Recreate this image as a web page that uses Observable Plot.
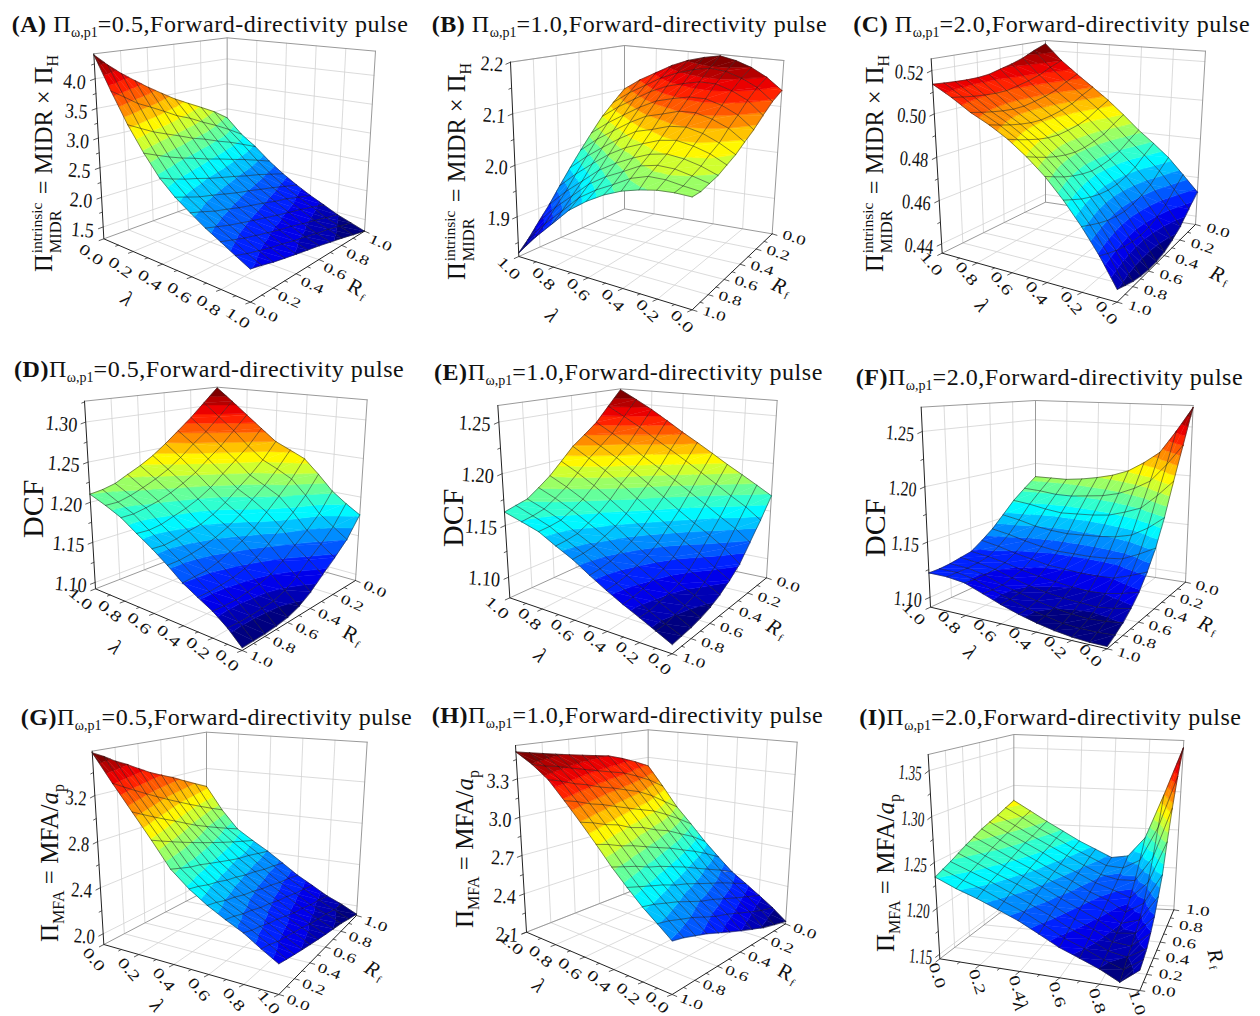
<!DOCTYPE html>
<html><head><meta charset="utf-8">
<script src="https://cdn.jsdelivr.net/npm/d3@7"></script>
<script src="https://cdn.jsdelivr.net/npm/@observablehq/plot@0.6"></script>
<style>
html,body{margin:0;padding:0;background:#fff}
#page{position:relative;width:1260px;height:1016px;overflow:hidden;font-family:"Liberation Serif",serif;color:#111}
.panel{position:absolute}
.panel svg{display:block;background:transparent}
.title{position:absolute;font-size:24px;line-height:1;white-space:nowrap;letter-spacing:.55px}
.title sub{font-size:14px;position:relative;top:5px;vertical-align:baseline;letter-spacing:0}
.ytitle{position:absolute;white-space:nowrap;line-height:1;font-size:25px;transform-origin:0 0;transform:rotate(-90deg)}
.ytitle sub{font-size:16px;vertical-align:baseline;position:relative;top:6px}
.stack{display:inline-block;position:relative;width:54px;height:10px}
.stack i{font-style:normal;position:absolute;left:1px;font-size:15.5px}
.stack .up{top:-13px}.stack .dn{top:6px;font-size:16.5px}
</style></head><body><div id="page"></div>
<script>
const zA=[[4.40,4.20,4.02,3.86,3.70,3.55,3.40,3.27,3.14,3.00,2.82],
[3.85,3.71,3.56,3.45,3.33,3.20,3.10,2.97,2.85,2.71,2.55],
[3.36,3.25,3.14,3.05,2.96,2.86,2.78,2.68,2.59,2.48,2.36],
[2.97,2.88,2.79,2.71,2.64,2.56,2.49,2.41,2.33,2.24,2.14],
[2.65,2.57,2.50,2.44,2.37,2.31,2.25,2.18,2.12,2.04,1.96],
[2.43,2.36,2.29,2.24,2.18,2.12,2.07,2.01,1.95,1.88,1.81],
[2.27,2.21,2.14,2.09,2.03,1.98,1.93,1.87,1.82,1.75,1.68],
[2.12,2.06,2.00,1.95,1.90,1.85,1.80,1.75,1.70,1.64,1.57],
[2.00,1.94,1.88,1.83,1.78,1.73,1.69,1.63,1.58,1.52,1.46],
[1.88,1.82,1.77,1.72,1.68,1.63,1.59,1.54,1.50,1.44,1.38],
[1.77,1.73,1.68,1.64,1.60,1.56,1.52,1.47,1.42,1.36,1.30]];
const zB=[[2.135,2.12,2.10,2.08,2.065,2.05,2.04,2.03,2.025,2.02,2.02],
[2.16,2.146,2.127,2.105,2.087,2.067,2.055,2.041,2.032,2.023,2.02],
[2.178,2.162,2.143,2.12,2.1,2.08,2.064,2.048,2.038,2.027,2.017],
[2.19,2.173,2.153,2.129,2.108,2.087,2.069,2.051,2.038,2.026,2.01],
[2.197,2.176,2.153,2.128,2.106,2.083,2.063,2.044,2.03,2.015,2.0],
[2.19,2.169,2.145,2.12,2.095,2.071,2.05,2.03,2.012,1.996,1.985],
[2.18,2.158,2.135,2.11,2.085,2.061,2.036,2.013,1.995,1.978,1.965],
[2.165,2.143,2.119,2.092,2.066,2.04,2.016,1.992,1.973,1.955,1.94],
[2.145,2.122,2.098,2.07,2.043,2.016,1.99,1.963,1.942,1.921,1.905],
[2.125,2.101,2.076,2.047,2.019,1.99,1.962,1.934,1.911,1.888,1.87],
[2.10,2.075,2.05,2.02,1.99,1.96,1.93,1.90,1.875,1.85,1.83]];
const zC=[[.4525,.4475,.4425,.4395,.4375,.4365,.4365,.437,.438,.4395,.441],
[.4605,.4562,.4518,.4492,.4476,.447,.4473,.4482,.4495,.4512,.453],
[.4685,.4646,.4606,.4585,.4572,.4567,.4572,.4582,.4598,.4616,.4635],
[.475,.4717,.4682,.4664,.4654,.4652,.4659,.4672,.4688,.4709,.473],
[.4812,.4783,.4752,.4737,.473,.4729,.4739,.4753,.4771,.4793,.4815],
[.4885,.4858,.4828,.4815,.4807,.4806,.4814,.4827,.4844,.4864,.4885],
[.4955,.4929,.49,.4886,.4879,.4876,.4882,.4894,.491,.4927,.4946],
[.5018,.4993,.4965,.495,.4941,.4937,.4941,.4951,.4964,.4979,.4995],
[.5081,.5056,.5027,.5011,.5001,.4993,.4994,.5001,.5011,.5023,.5036],
[.515,.5126,.5098,.5081,.5069,.5059,.5059,.5064,.5071,.508,.509],
[.5236,.521,.518,.516,.5145,.513,.5125,.5125,.5128,.5132,.5137]];
const zD=[[1.177,1.153,1.138,1.125,1.112,1.103,1.098,1.096,1.095,1.095,1.095],
[1.188,1.165,1.15,1.138,1.125,1.116,1.111,1.11,1.109,1.109,1.11],
[1.201,1.178,1.163,1.151,1.139,1.13,1.125,1.123,1.121,1.121,1.122],
[1.22,1.198,1.182,1.169,1.155,1.145,1.138,1.134,1.132,1.131,1.131],
[1.238,1.216,1.199,1.184,1.17,1.16,1.153,1.147,1.143,1.142,1.141],
[1.247,1.226,1.209,1.196,1.182,1.172,1.165,1.16,1.157,1.155,1.155],
[1.256,1.235,1.219,1.206,1.193,1.183,1.176,1.173,1.169,1.167,1.168],
[1.272,1.251,1.236,1.222,1.208,1.198,1.191,1.186,1.181,1.179,1.18],
[1.289,1.27,1.252,1.238,1.224,1.214,1.206,1.2,1.196,1.193,1.193],
[1.307,1.287,1.269,1.255,1.24,1.228,1.219,1.212,1.206,1.202,1.202],
[1.325,1.305,1.286,1.27,1.255,1.242,1.232,1.224,1.216,1.212,1.21]];
const zE=[[1.166,1.147,1.131,1.116,1.107,1.1,1.095,1.092,1.09,1.089,1.088],
[1.175,1.158,1.142,1.128,1.116,1.108,1.102,1.099,1.097,1.095,1.095],
[1.184,1.167,1.151,1.138,1.126,1.116,1.109,1.106,1.104,1.102,1.102],
[1.193,1.177,1.161,1.147,1.135,1.125,1.119,1.115,1.112,1.11,1.109],
[1.203,1.187,1.171,1.157,1.146,1.135,1.128,1.124,1.12,1.118,1.117],
[1.213,1.197,1.181,1.168,1.157,1.146,1.138,1.133,1.129,1.127,1.126],
[1.223,1.207,1.191,1.179,1.168,1.157,1.149,1.144,1.139,1.137,1.136],
[1.234,1.217,1.201,1.19,1.18,1.168,1.159,1.153,1.147,1.145,1.144],
[1.245,1.228,1.212,1.201,1.191,1.179,1.169,1.162,1.156,1.154,1.153],
[1.255,1.238,1.222,1.211,1.201,1.189,1.178,1.17,1.163,1.16,1.158],
[1.265,1.248,1.232,1.221,1.211,1.198,1.186,1.177,1.169,1.166,1.163]];
const zF=[[1.27,1.235,1.203,1.172,1.148,1.131,1.118,1.109,1.102,1.097,1.093],
[1.245,1.214,1.187,1.16,1.14,1.125,1.114,1.106,1.1,1.096,1.093],
[1.222,1.196,1.173,1.151,1.133,1.12,1.111,1.104,1.099,1.096,1.094],
[1.21,1.187,1.167,1.147,1.131,1.119,1.11,1.105,1.1,1.097,1.096],
[1.2,1.18,1.162,1.145,1.13,1.119,1.111,1.106,1.102,1.1,1.099],
[1.194,1.176,1.16,1.144,1.13,1.12,1.113,1.108,1.105,1.103,1.103],
[1.19,1.174,1.159,1.143,1.13,1.121,1.115,1.111,1.109,1.108,1.108],
[1.187,1.172,1.158,1.144,1.132,1.124,1.118,1.115,1.113,1.113,1.114],
[1.185,1.172,1.16,1.146,1.135,1.127,1.122,1.12,1.119,1.119,1.12],
[1.185,1.174,1.163,1.15,1.139,1.131,1.125,1.123,1.122,1.122,1.122],
[1.185,1.175,1.165,1.153,1.142,1.134,1.127,1.125,1.123,1.122,1.122]];
const zG=[[3.57,3.52,3.46,3.41,3.35,3.29,3.24,3.19,3.13,3.07,3.01],
[3.33,3.275,3.22,3.165,3.11,3.055,3.0,2.945,2.89,2.835,2.78],
[3.11,3.06,3.01,2.96,2.91,2.855,2.80,2.75,2.70,2.65,2.60],
[2.9,2.86,2.82,2.78,2.74,2.70,2.66,2.62,2.58,2.54,2.5],
[2.69,2.66,2.63,2.61,2.58,2.55,2.52,2.49,2.47,2.44,2.41],
[2.56,2.54,2.51,2.49,2.46,2.44,2.41,2.39,2.36,2.34,2.31],
[2.46,2.44,2.41,2.39,2.36,2.34,2.31,2.29,2.26,2.24,2.21],
[2.38,2.36,2.33,2.31,2.28,2.26,2.23,2.21,2.18,2.16,2.13],
[2.31,2.28,2.26,2.23,2.21,2.18,2.15,2.13,2.10,2.08,2.05],
[2.22,2.20,2.17,2.15,2.13,2.11,2.08,2.06,2.04,2.01,1.99],
[2.14,2.12,2.10,2.08,2.06,2.04,2.02,2.0,1.98,1.95,1.92]];
const zH=[[2.12,2.15,2.18,2.22,2.26,2.3,2.34,2.38,2.41,2.44,2.46],
[2.2,2.23,2.27,2.31,2.35,2.38,2.42,2.46,2.49,2.52,2.54],
[2.27,2.31,2.35,2.39,2.43,2.46,2.5,2.54,2.57,2.6,2.62],
[2.34,2.39,2.44,2.48,2.52,2.56,2.59,2.63,2.66,2.69,2.72],
[2.41,2.47,2.52,2.57,2.62,2.66,2.70,2.73,2.77,2.80,2.83],
[2.51,2.58,2.64,2.69,2.74,2.78,2.82,2.86,2.89,2.93,2.96],
[2.62,2.70,2.76,2.82,2.86,2.91,2.94,2.99,3.02,3.06,3.09],
[2.75,2.83,2.90,2.96,3.0,3.04,3.08,3.12,3.15,3.19,3.22],
[2.88,2.96,3.04,3.10,3.14,3.18,3.21,3.25,3.28,3.32,3.35],
[3.05,3.13,3.19,3.24,3.27,3.30,3.33,3.36,3.39,3.41,3.44],
[3.22,3.28,3.33,3.37,3.39,3.41,3.43,3.45,3.47,3.49,3.51]];
const zI=[[1.234,1.238,1.242,1.247,1.252,1.257,1.262,1.266,1.27,1.275,1.28],
[1.224,1.228,1.233,1.237,1.241,1.246,1.25,1.254,1.258,1.263,1.267],
[1.216,1.22,1.224,1.227,1.231,1.235,1.239,1.243,1.246,1.25,1.254],
[1.207,1.21,1.214,1.218,1.221,1.225,1.228,1.232,1.235,1.239,1.242],
[1.198,1.201,1.204,1.208,1.211,1.214,1.217,1.22,1.224,1.227,1.23],
[1.187,1.19,1.194,1.197,1.2,1.204,1.207,1.21,1.213,1.217,1.22],
[1.176,1.179,1.183,1.186,1.19,1.193,1.196,1.2,1.203,1.207,1.21],
[1.168,1.171,1.174,1.177,1.18,1.184,1.188,1.193,1.198,1.205,1.213],
[1.16,1.162,1.164,1.166,1.168,1.171,1.176,1.185,1.198,1.216,1.238],
[1.15,1.155,1.16,1.164,1.17,1.177,1.188,1.205,1.228,1.259,1.295],
[1.165,1.168,1.172,1.18,1.19,1.205,1.223,1.255,1.29,1.325,1.358]];

const gridValues=[0,.1,.2,.3,.4,.5,.6,.7,.8,.9,1];
const floorTicks=[0,.2,.4,.6,.8,1];
const ticksA=[1.5,2,2.5,3,3.5,4], ticksB=[1.9,2,2.1,2.2], ticksC=[.44,.46,.48,.5,.52],
 ticksD=[1.1,1.15,1.2,1.25,1.3], ticksE=[1.1,1.15,1.2,1.25], ticksF=[1.1,1.15,1.2,1.25],
 ticksG=[2,2.4,2.8,3.2], ticksH=[2.1,2.4,2.7,3,3.3], ticksI=[1.15,1.2,1.25,1.3,1.35];
const colorStops=["#000080","#0000ff","#0080ff","#00ffff","#80ff80","#ffff00","#ff8000","#ff0000","#800000"];

const yMIDR=`Π<span class="stack"><i class="up">intrinsic</i><i class="dn">MIDR</i></span> = MIDR × Π<sub>H</sub>`;
const yMFA=`Π<sub>MFA</sub> = MFA/<em>a</em><sub>p</sub>`;
// View geometry is in units of the 3x zoomed crop of each panel; divided by 3 when drawn.
const views=[
{id:"A",pi:"0.5",gap:" ",at:[0,0],h:340,z:zA,zt:ticksA,fmt:".1f",zr:[1.30,4.42],flip:false,cw:7.5,
 L:[310,715],F:[750,905],R:[1092,692],B:[680,580],LT:[280,160],FT:[745,245],RT:[1125,152],BT:[680,112],
 lo:[-38,48],lr:35,ro:[48,35],rr:25,zo:[-28,12],zrot:5,lam:[380,895],rf:[1065,860],rfr:30,rfi:false,
 title:[35,50],yt:[95,815],y:yMIDR,yf:24.5},
{id:"B",pi:"1.0",gap:" ",at:[420,0],h:340,z:zB,zt:ticksB,fmt:".1f",zr:[1.823,2.2],flip:true,cw:7.5,
 L:[295,768],F:[815,928],R:[1055,700],B:[612,625],LT:[270,185],FT:[815,280],RT:[1090,180],BT:[612,135],
 lo:[-30,35],lr:45,ro:[66,12],rr:18,zo:[-22,8],zrot:4,lam:[395,945],rf:[1075,855],rfr:25,rfi:true,
 title:[35,52],yt:[75,840],y:yMIDR,yf:24.5},
{id:"C",pi:"2.0",gap:" ",at:[840,0],h:340,z:zC,zt:ticksC,fmt:".2f",zr:[.4357,.5254],flip:true,cw:7.2,
 L:[305,758],F:[830,905],R:[1065,672],B:[615,605],LT:[272,175],FT:[830,255],RT:[1095,152],BT:[615,120],
 lo:[-32,32],lr:50,ro:[68,18],rr:18,zo:[-25,10],zrot:5,lam:[425,915],rf:[1130,820],rfr:25,rfi:true,
 title:[40,52],yt:[70,815],y:yMIDR,yf:24.5},
{id:"D",pi:"0.5",gap:"",at:[0,340],h:340,z:zD,zt:ticksD,fmt:".2f",zr:[1.092,1.326],flip:true,cw:8,
 L:[285,745],F:[725,930],R:[1065,720],B:[650,603],LT:[252,182],FT:[725,280],RT:[1100,178],BT:[650,140],
 lo:[-45,30],lr:40,ro:[58,26],rr:25,zo:[-25,10],zrot:5,lam:[345,920],rf:[1050,880],rfr:30,rfi:false,
 title:[42,66],yt:[55,595],y:"DCF",yf:30},
{id:"E",pi:"1.0",gap:"",at:[420,340],h:340,z:zE,zt:ticksE,fmt:".2f",zr:[1.08,1.266],flip:true,cw:8,
 L:[268,772],F:[755,940],R:[1038,712],B:[600,620],LT:[232,195],FT:[755,290],RT:[1070,180],BT:[600,145],
 lo:[-38,30],lr:42,ro:[65,20],rr:20,zo:[-25,8],zrot:4,lam:[360,945],rf:[1060,860],rfr:30,rfi:true,
 title:[42,76],yt:[55,620],y:"DCF",yf:30},
{id:"F",pi:"2.0",gap:"",at:[840,340],h:340,z:zF,zt:ticksF,fmt:".2f",zr:[1.091,1.272],flip:true,cw:7,
 L:[270,800],F:[800,925],R:[1035,725],B:[585,655],LT:[242,200],FT:[800,275],RT:[1058,195],BT:[585,180],
 lo:[-50,20],lr:45,ro:[65,18],rr:18,zo:[-25,10],zrot:5,lam:[390,935],rf:[1095,850],rfr:25,rfi:true,
 title:[47,89],yt:[60,650],y:"DCF",yf:30},
{id:"G",pi:"0.5",gap:"",at:[0,680],h:336,z:zG,zt:ticksG,fmt:".1f",zr:[1.907,3.585],flip:false,cw:7,
 L:[310,792],F:[835,942],R:[1068,705],B:[618,630],LT:[275,212],FT:[835,280],RT:[1100,185],BT:[618,155],
 lo:[-30,45],lr:50,ro:[58,25],rr:22,zo:[-25,10],zrot:4,lam:[470,975],rf:[1115,865],rfr:30,rfi:true,
 title:[62,91],yt:[110,785],y:yMFA,yf:25},
{id:"H",pi:"1.0",gap:"",at:[420,680],h:336,z:zH,zt:ticksH,fmt:".1f",zr:[2.1,3.56],flip:true,cw:7.5,
 L:[318,755],F:[755,942],R:[1095,730],B:[683,612],LT:[285,195],FT:[755,290],RT:[1130,185],BT:[683,148],
 lo:[-45,35],lr:40,ro:[58,22],rr:22,zo:[-25,10],zrot:4,lam:[355,915],rf:[1095,875],rfr:30,rfi:false,
 title:[35,84],yt:[95,745],y:yMFA,yf:25},
{id:"I",pi:"2.0",gap:"",at:[840,680],h:336,z:zI,zt:ticksI,fmt:".2f",zr:[1.145,1.3675],flip:false,cw:5.8,
 L:[298,835],F:[898,930],R:[1000,688],B:[520,665],LT:[263,222],FT:[900,250],RT:[1030,180],BT:[520,162],
 lo:[-8,50],lr:72,ro:[72,2],rr:8,zo:[-22,10],zrot:5,lam:[540,975],rf:[1125,825],rfr:75,rfi:true,
 title:[58,89],yt:[100,815],y:yMFA,yf:25}
];

const page=document.getElementById("page");
const mix=(a,b,t)=>[a[0]+(b[0]-a[0])*t,a[1]+(b[1]-a[1])*t];
const jet=d3.piecewise(d3.interpolateRgb,colorStops);

function clipPoly(poly,lim,above){
  const out=[];
  for(let i=0;i<poly.length;i++){
    const a=poly[i],b=poly[(i+1)%poly.length];
    const ain=above?a.z>=lim:a.z<=lim,bin=above?b.z>=lim:b.z<=lim;
    if(ain)out.push(a);
    if(ain!==bin){const t=(lim-a.z)/(b.z-a.z);
      out.push({u:a.u+(b.u-a.u)*t,v:a.v+(b.v-a.v)*t,z:lim});}
  }
  return out;
}

function drawPanel(p){
  const q=k=>p[k].map(d=>d/3);
  const bl=(a,b,c,d,u,v)=>mix(mix(a,b,u),mix(d,c,u),v);
  const floorAt=(u,v)=>bl(q("L"),q("F"),q("R"),q("B"),u,v);
  const topAt=(u,v)=>bl(q("LT"),q("FT"),q("RT"),q("BT"),u,v);
  const proj=(u,v,z)=>mix(floorAt(u,v),topAt(u,v),(z-p.zr[0])/(p.zr[1]-p.zr[0]));
  const uv=(i,j)=>{const l=gridValues[i],r=gridValues[j];return p.flip?[1-l,1-r]:[l,r];};
  const flat=p.z.flat(),zmin=d3.min(flat),zmax=d3.max(flat),nb=20;
  const edges=d3.range(nb+1).map(i=>zmin+(zmax-zmin)*i/nb);
  const range=d3.range(nb).map(i=>jet(i/(nb-1)));
  const cells=[];
  for(let i=0;i<10;i++)for(let j=0;j<10;j++){
    const c=[[i,j],[i+1,j],[i+1,j+1],[i,j+1]].map(([a,b])=>{const[u,v]=uv(a,b);return{u,v,z:p.z[a][b]};});
    const um=d3.mean(c,d=>d.u),vm=d3.mean(c,d=>d.v);
    cells.push({c,depth:floorAt(um,vm)[1]});
  }
  cells.sort((a,b)=>a.depth-b.depth);
  const polys=[];
  for(const {c} of cells){
    for(const tri of [[c[0],c[1],c[2]],[c[0],c[2],c[3]]]){
      for(let k=0;k<nb;k++){
        let poly=clipPoly(tri,edges[k],true);
        if(poly.length>2)poly=clipPoly(poly,k===nb-1?Infinity:edges[k+1],false);
        if(poly.length>2){
          const ring=poly.map(d=>proj(d.u,d.v,d.z));ring.push(ring[0]);
          polys.push({type:"Feature",properties:{v:(edges[k]+edges[k+1])/2},geometry:{type:"Polygon",coordinates:[ring]}});
        }
      }
    }
  }
  const ml=c=>({type:"MultiLineString",coordinates:c});
  const mesh=[];
  for(let i=0;i<=10;i++){
    mesh.push(d3.range(11).map(j=>{const[u,v]=uv(i,j);return proj(u,v,p.z[i][j]);}));
    mesh.push(d3.range(11).map(j=>{const[u,v]=uv(j,i);return proj(u,v,p.z[j][i]);}));
  }
  const [z0,z1]=p.zr;
  const grid=[];
  for(const t of floorTicks){
    if(t>0&&t<1){
      grid.push([proj(t,0,z0),proj(t,1,z0),proj(t,1,z1)]);
      grid.push([proj(0,t,z1),proj(0,t,z0),proj(1,t,z0)]);
    }
  }
  for(const t of p.zt)grid.push([proj(0,0,t),proj(0,1,t),proj(1,1,t)]);
  const frameTop=[[proj(0,0,z1),proj(0,1,z1),proj(1,1,z1)],[proj(0,1,z1),proj(0,1,z0)],[proj(1,1,z1),proj(1,1,z0)],[proj(0,0,z0),proj(0,1,z0),proj(1,1,z0)]];
  const norm=(a,b,len)=>{const d=[b[0]-a[0],b[1]-a[1]],n=Math.hypot(...d);return[d[0]/n*len,d[1]/n*len];};
  const axes=[[proj(0,0,z1),proj(0,0,z0),proj(1,0,z0),proj(1,1,z0)]];
  const tick=[];
  const dirU=norm(proj(0,1,z0),proj(0,0,z0),1),dirV=norm(proj(0,0,z0),proj(1,0,z0),1);
  const add=(pt,d,l)=>tick.push([pt,[pt[0]+d[0]*l,pt[1]+d[1]*l]]);
  for(let t=0;t<=1.001;t+=.1){
    const major=Math.round(t*10)%2===0,l=major?5:3;
    add(proj(t,0,z0),dirU,l);
    add(proj(1,t,z0),dirV,l);
  }
  const zstep=p.zt[1]-p.zt[0];
  for(const t of p.zt){
    add(proj(0,0,t),dirU,5);
    const m=t-zstep/2;if(m>z0)add(proj(0,0,m),dirU,3);
    if(t===p.zt[p.zt.length-1]&&t+zstep/2<z1)add(proj(0,0,t+zstep/2),dirU,3);
  }
  const lamLabels=[],rfLabels=[],f=d3.format(".1f"),zf=d3.format(p.fmt),maxY=p.h-14;
  for(const t of floorTicks){
    const a=proj(t,0,z0),b=proj(1,t,z0);
    lamLabels.push({x:a[0]+p.lo[0]/3,y:Math.min(maxY,a[1]+p.lo[1]/3),t:f(p.flip?1-t:t),r:p.lr});
    rfLabels.push({x:b[0]+p.ro[0]/3,y:Math.min(maxY+3,b[1]+p.ro[1]/3),t:f(p.flip?1-t:t),r:p.rr});
  }
  const zlabels=p.zt.map(t=>{const a=proj(0,0,t);return{x:a[0]+p.zo[0]/3,y:a[1]+p.zo[1]/3,t:zf(t),r:p.zrot};});
  const rad=p.rfr*Math.PI/180,fx=p.rf[0]/3+11*Math.cos(rad)-6*Math.sin(rad),fy=p.rf[1]/3+11*Math.sin(rad)+6*Math.cos(rad);
  const svg=Plot.plot({width:420,height:p.h,margin:0,projection:d3.geoIdentity(),
    style:{background:"transparent",fontFamily:`"Liberation Serif",serif`,color:"#111"},
    color:{type:"threshold",domain:edges.slice(1,-1),range},
    marks:[
      Plot.geo([ml(grid)],{stroke:"#d2d2d2",strokeWidth:.8,fill:"none"}),
      Plot.geo([ml(frameTop)],{stroke:"#9a9a9a",strokeWidth:1,fill:"none"}),
      Plot.geo(polys,{fill:d=>d.properties.v,stroke:d=>d.properties.v,strokeWidth:.45}),
      Plot.geo([ml(mesh)],{stroke:"#1c1c1c",strokeWidth:.6,strokeOpacity:.85,fill:"none"}),
      Plot.geo([ml(axes)],{stroke:"#222",strokeWidth:1,fill:"none"}),
      Plot.geo([ml(tick)],{stroke:"#333",strokeWidth:.8,fill:"none"}),
      Plot.text(lamLabels,{x:"x",y:"y",text:"t",rotate:"r",fontSize:15,fill:"#111",className:"flab"}),
      Plot.text(rfLabels,{x:"x",y:"y",text:"t",rotate:"r",fontSize:13.5,fill:"#111",className:"rlab"}),
      Plot.text(zlabels,{x:"x",y:"y",text:"t",rotate:"r",fontSize:21,textAnchor:"end",fill:"#111",className:"zlab"}),
      Plot.text([{x:p.lam[0]/3,y:p.lam[1]/3}],{x:"x",y:"y",text:()=>"λ",rotate:p.lr,fontSize:21,fontStyle:"italic",fill:"#111"}),
      Plot.text([{x:p.rf[0]/3,y:p.rf[1]/3}],{x:"x",y:"y",text:()=>"R",rotate:p.rfr,fontSize:21,fontStyle:p.rfi?"italic":"normal",fill:"#111"}),
      Plot.text([{x:fx,y:fy}],{x:"x",y:"y",text:()=>"f",rotate:p.rfr,fontSize:11,fill:"#111"})
    ]});
  // the reference's perspective text is squeezed (value labels) or stretched (floor labels)
  const fit=(sel,len)=>svg.querySelectorAll(sel+" text").forEach(t=>{
    t.setAttribute("textLength",len(t.textContent));t.setAttribute("lengthAdjust","spacingAndGlyphs");});
  fit(".zlab",s=>s.length*p.cw);
  fit(".flab",()=>26);
  fit(".rlab",()=>24);
  const wrap=document.createElement("div");
  wrap.className="panel";
  wrap.style.cssText=`left:${p.at[0]}px;top:${p.at[1]}px;width:420px;height:${p.h}px`;
  wrap.appendChild(svg);
  const ti=document.createElement("div");
  ti.className="title";
  ti.style.left=p.title[0]/3+"px";ti.style.top=p.title[1]/3-5+"px";
  ti.innerHTML=`<b>(${p.id})</b>${p.gap}Π<sub>ω,p1</sub>=${p.pi},Forward-directivity pulse`;
  wrap.appendChild(ti);
  const yt=document.createElement("div");
  yt.className="ytitle";
  yt.style.left=p.yt[0]/3+"px";yt.style.top=p.yt[1]/3+"px";yt.style.fontSize=p.yf+"px";
  yt.innerHTML=p.y;
  wrap.appendChild(yt);
  page.appendChild(wrap);
}
views.forEach(drawPanel);
</script></body></html>
